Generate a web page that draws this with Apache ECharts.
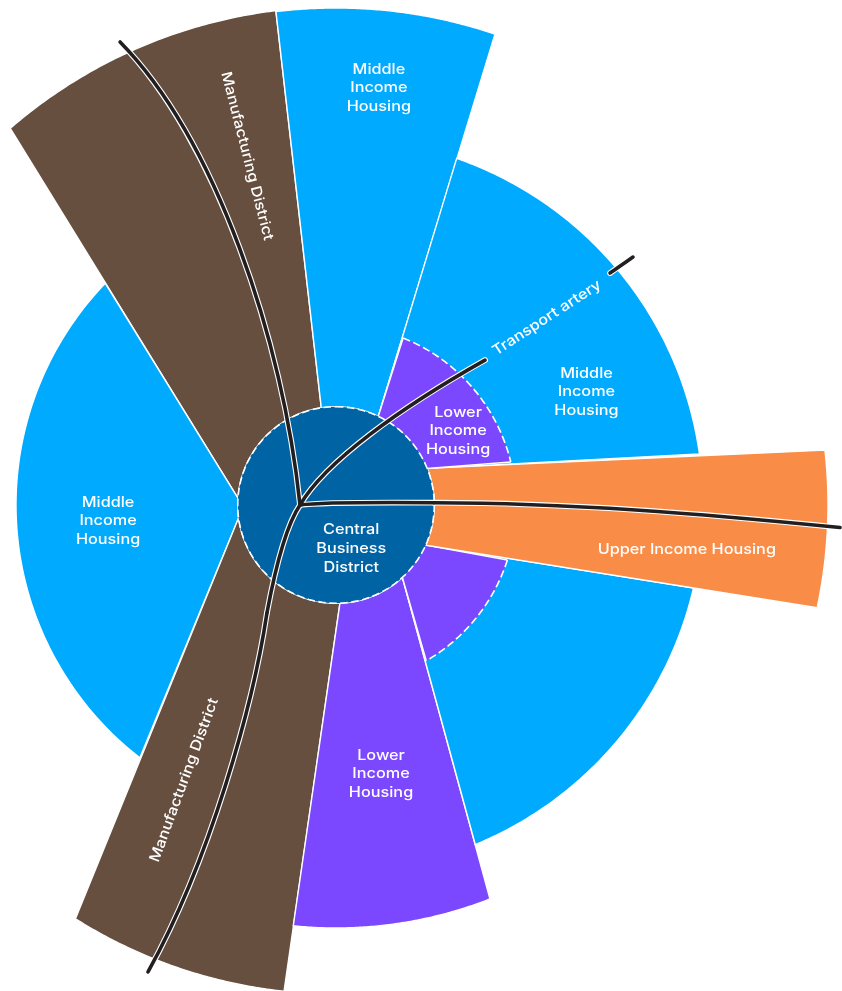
<!DOCTYPE html>
<html>
<head>
<meta charset="utf-8">
<style>html,body{margin:0;padding:0;background:#fff}#c{width:842px;height:991px}</style>
<script src="https://cdn.jsdelivr.net/npm/echarts@6/dist/echarts.min.js"></script>
</head>
<body>
<div id="c"></div>
<script>
// Zones in draw order (radius and clockwise-from-north angle)
var zoneNames  = ['Manufacturing N','Middle N','Middle W','Manufacturing S','Lower S','Middle SE','Lower SE','Upper E','Middle NE','Lower NE','CBD'];
var zoneKinds  = ['manufacturing','middle','middle','manufacturing','lower','middle','lower','upper','middle','lower','cbd'];
var outerRadii = [498, 497, 320, 489, 423, 367, 180, 492, 367, 180, 98.3];
var outerStart = [-40.85, -6.94, 217.8, 186.1, 158.65, 103.1, 107.8, 83.6, 19.2, 21.9, 0];
var outerEnd   = [-6.94, 18.65, 313.86, 212.2, 185.8, 157.7, 149.9, 102.06, 82, 76.2, 360];
var innerStart = [-86, -8.6, 262.4, 177.7, 137.5, 114.1, 114.1, 68.1, 25.5, 25.5, 0];
var innerEnd   = [-8.6, 25.5, 274, 262.4, 177.7, 137.5, 137.5, 114.1, 68.1, 68.1, 0];
var dashedZones = ['Lower SE','Lower NE','CBD'];
var kindColors = {manufacturing:'#674F40', middle:'#00AAFF', lower:'#7C48FF', upper:'#F98D47', cbd:'#0064A4'};

// Transport artery curve segments: start, two handles, end, each as radius, angle
var arteryNW  = [36,270, 173.3,342.2, 384.2,341.8, 510.9,335];
var arterySWa = [36,270, 55.5,246.7, 97.9,220, 128.2,212.6];
var arterySWb = [128.2,212.6, 216.5,202.5, 376.7,199.54, 503.4,201.93];
var arteryEa  = [36,270, 21.1,275.44, 44.1,86.5, 98,88.66];
var arteryEb  = [98,88.66, 234,89.5, 364.1,91.34, 504.5,92.56];
var arteryNEa = [36,270, 44.4,345.65, 116.2,33.4, 207.9,45.8];
var arteryNEb = [359,49.75, 368,49.87, 378,50.02, 386.9,50.14];
var arteries = [arteryNW, arterySWa, arterySWb, arteryEa, arteryEb, arteryNEa, arteryNEb];

// Labels
var labelTexts  = ['Middle\nIncome\nHousing','Middle\nIncome\nHousing','Middle\nIncome\nHousing','Lower\nIncome\nHousing','Lower\nIncome\nHousing','Central\nBusiness\nDistrict','Upper Income Housing','Manufacturing District','Manufacturing District','Transport artery'];
var labelRadii  = [419.2, 274.8, 228.5, 142.7, 272.8, 46.4, 353.6, 360.2, 314.2, 281.9];
var labelAngles = [5.87, 65.7, 266, 58.8, 170.5, 160.8, 97.2, 345.7, 208.9, 48.4];
var labelTilts  = [0, 0, 0, 0, 0, 0, 0, -75.6, 69.8, 33];

var FONT = 'Inter';
var FS = 14.5;
var STRETCH = 1.12;

function arc(api, r, a0, a1, n) {
  var p = [];
  for (var i = 0; i <= n; i++) p.push(api.coord([r, a0 + (a1 - a0) * i / n]));
  return p;
}

var zoneData = zoneNames.map(function (n, i) {
  return {name: n, value: [outerRadii[i], outerStart[i], outerEnd[i], innerStart[i], innerEnd[i]]};
});
var INNER = 98.3;
var EDGE = 1.4;

function renderZone(params, api) {
  var i = params.dataIndex, r = api.value(0), s = api.value(1), e = api.value(2), is = api.value(3), ie = api.value(4);
  var color = kindColors[zoneKinds[i]];
  var dashed = dashedZones.indexOf(zoneNames[i]) >= 0;
  var outer = arc(api, r, s, e, 90);
  var isCbd = zoneKinds[i] === 'cbd';
  var inner = isCbd ? [] : arc(api, INNER, ie, is, 20);
  var pts = outer.concat(inner);
  var children = [{
    type: 'polygon', shape: {points: pts},
    style: {fill: color, stroke: dashed ? null : '#fff', lineWidth: EDGE, lineJoin: 'miter'}
  }];
  if (dashed) {
    children.push({type: 'polyline', shape: {points: outer},
      style: {fill: null, stroke: '#fff', lineWidth: 1.6, lineDash: [7.5, 3.5]}});
    if (!isCbd) {
      children.push({type: 'polyline', shape: {points: [outer[0], inner[inner.length - 1]]},
        style: {fill: null, stroke: '#fff', lineWidth: EDGE}});
      children.push({type: 'polyline', shape: {points: [outer[outer.length - 1], inner[0]]},
        style: {fill: null, stroke: '#fff', lineWidth: EDGE}});
    }
  }
  return {type: 'group', children: children};
}

function arteryRenderer(color, width) {
  return function (params, api) {
    var a = api.coord([api.value(0), api.value(1)]), b = api.coord([api.value(2), api.value(3)]),
        c = api.coord([api.value(4), api.value(5)]), d = api.coord([api.value(6), api.value(7)]);
    return {
      type: 'bezierCurve',
      shape: {x1: a[0], y1: a[1], cpx1: b[0], cpy1: b[1], cpx2: c[0], cpy2: c[1], x2: d[0], y2: d[1]},
      style: {fill: null, stroke: color, lineWidth: width, lineCap: 'round'}
    };
  };
}

var labelData = labelTexts.map(function (t, i) {
  return {name: t, value: [labelRadii[i], labelAngles[i], labelTilts[i]]};
});
function renderLabel(params, api) {
  var p = api.coord([api.value(0), api.value(1)]);
  return {
    type: 'text', x: p[0], y: p[1], rotation: api.value(2) * Math.PI / 180, scaleX: STRETCH,
    style: {text: labelTexts[params.dataIndex], fill: '#fff', align: 'center', verticalAlign: 'middle',
      font: '500 ' + FS + 'px ' + FONT, lineHeight: 18.7}
  };
}

var series = [
  {type: 'custom', coordinateSystem: 'polar', clip: false, silent: true, z: 2,
   renderItem: renderZone, data: zoneData},
  {type: 'custom', coordinateSystem: 'polar', clip: false, silent: true, z: 3,
   renderItem: arteryRenderer('#fff', 5.8), data: arteries},
  {type: 'custom', coordinateSystem: 'polar', clip: false, silent: true, z: 4,
   renderItem: arteryRenderer('#231F20', 3.6), data: arteries},
  {type: 'custom', coordinateSystem: 'polar', clip: false, silent: true, z: 5,
   renderItem: renderLabel, data: labelData}
];

var chart = echarts.init(document.getElementById('c'), null, {renderer: 'canvas'});
chart.setOption({
  animation: false,
  backgroundColor: '#fff',
  polar: {center: [336, 505], radius: 600},
  angleAxis: {type: 'value', min: 0, max: 360, startAngle: 90, show: false},
  radiusAxis: {type: 'value', min: 0, max: 600, show: false},
  series: series
});
</script>
</body>
</html>
